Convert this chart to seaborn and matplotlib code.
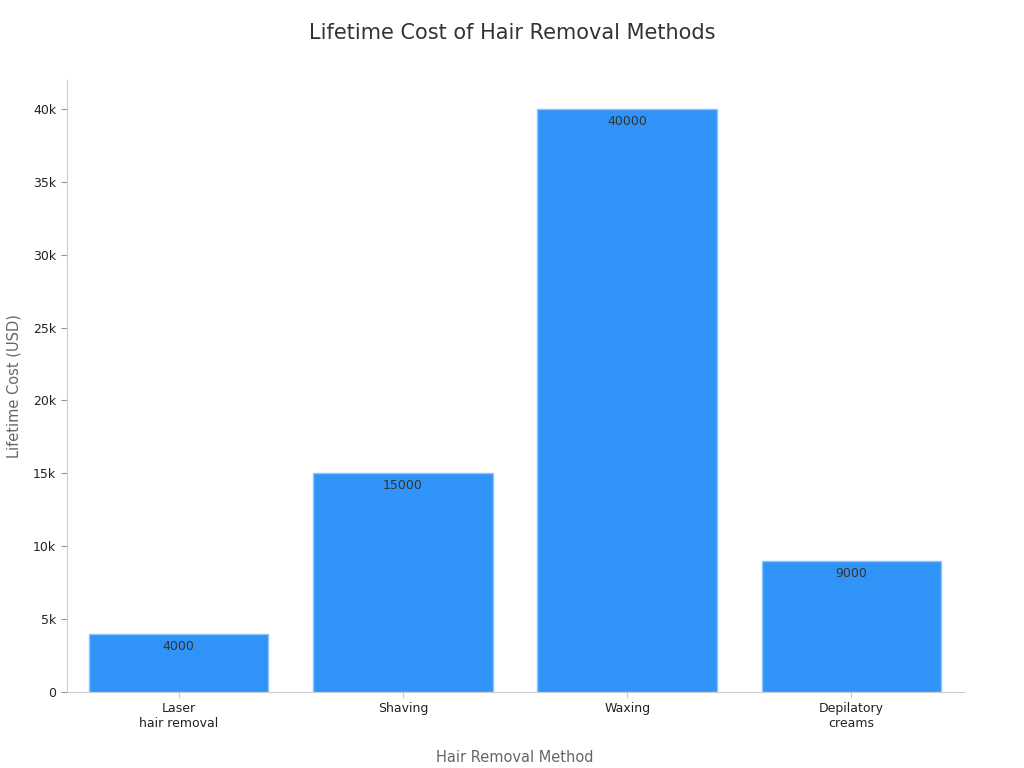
import matplotlib
matplotlib.use("Agg")
import matplotlib.pyplot as plt
import seaborn as sns
import pandas as pd

methods = ["Laser\nhair removal", "Shaving", "Waxing", "Depilatory\ncreams"]
costs = [4000, 15000, 40000, 9000]
yticks = [0, 5000, 10000, 15000, 20000, 25000, 30000, 35000, 40000]
ytick_labels = ["0", "5k", "10k", "15k", "20k", "25k", "30k", "35k", "40k"]

df = pd.DataFrame({"method": methods, "cost": costs})

sns.set_style("white")
plt.rcParams["font.family"] = ["DejaVu Sans"]

fig = plt.figure(figsize=(10.24, 7.68), dpi=100)
ax = fig.add_axes([0.065, 0.099, 0.876, 0.797])

sns.barplot(data=df, x="method", y="cost", color="#2f93f8", saturation=1,
            edgecolor="#8cc4fb", linewidth=1, width=0.8, ax=ax)

for i, v in enumerate(costs):
    ax.text(i, v - 400, str(v), ha="center", va="top", fontsize=9, color="#333333")

ax.set_ylim(0, 42000)
ax.set_xlim(-0.5, 3.5)
ax.set_yticks(yticks)
ax.set_yticklabels(ytick_labels, fontsize=9, color="#222222")
ax.tick_params(axis="x", labelsize=9, colors="#222222", length=4, color="#cccccc")
ax.tick_params(axis="y", length=4, color="#999999", left=True)
ax.tick_params(axis="x", bottom=True)
for s in ["top", "right"]:
    ax.spines[s].set_visible(False)
for s in ["left", "bottom"]:
    ax.spines[s].set_color("#cccccc")

ax.set_xlabel("Hair Removal Method", fontsize=10.5, color="#666666", labelpad=14)
ax.set_ylabel("Lifetime Cost (USD)", fontsize=10.5, color="#666666", labelpad=8)
fig.suptitle("Lifetime Cost of Hair Removal Methods", fontsize=15, color="#333333", y=0.97)

fig.savefig("out.png", dpi=100)
